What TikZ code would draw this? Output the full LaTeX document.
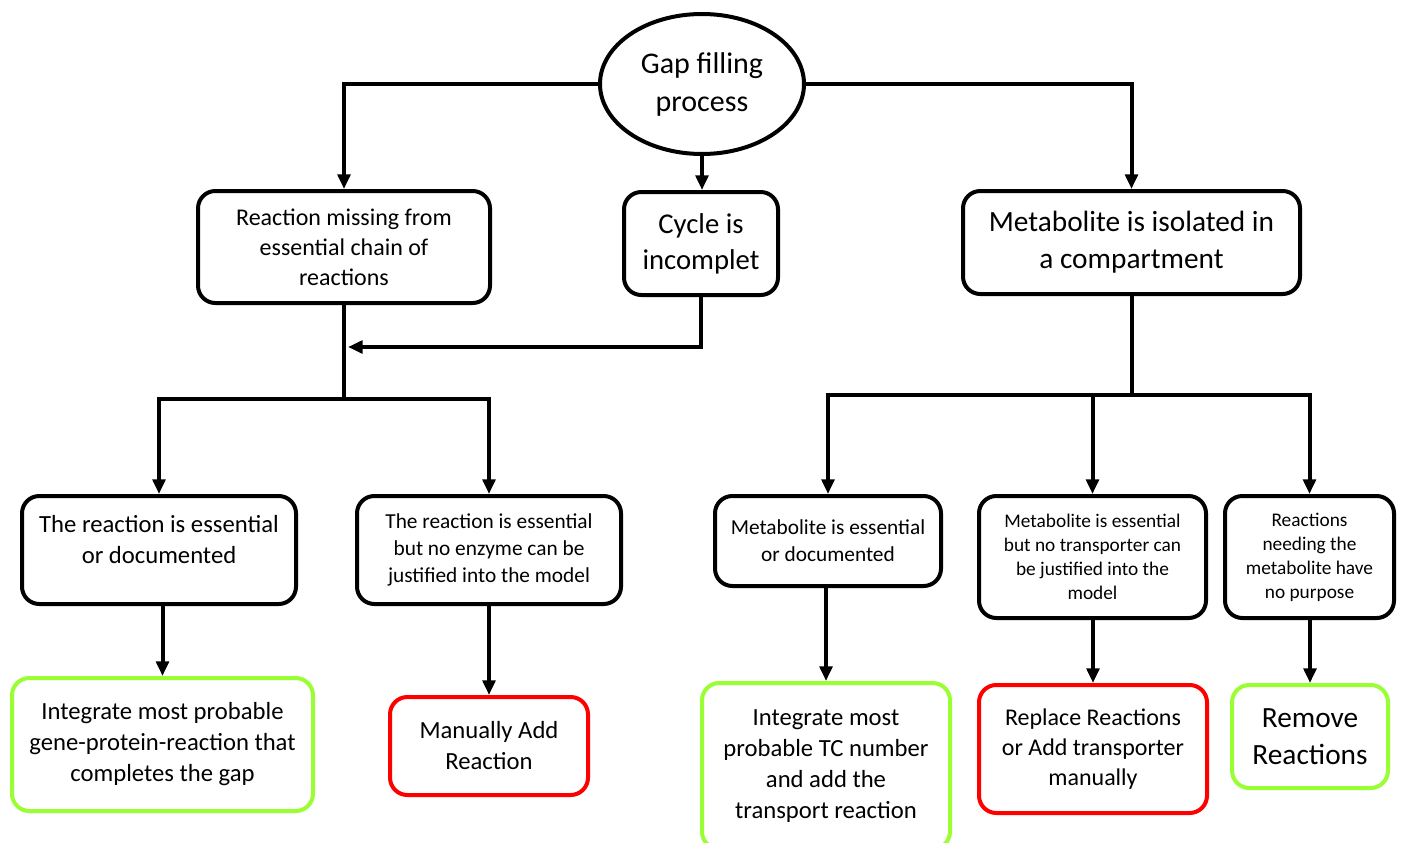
\documentclass[tikz,border=0pt]{standalone}
\usepackage{fontspec}
\setmainfont{Carlito}
\usetikzlibrary{arrows.meta,shapes.geometric}

\definecolor{okgreen}{RGB}{153,255,51}
\definecolor{nored}{RGB}{255,0,0}

\tikzset{
  conn/.style={line width=3pt},
  arr/.style={conn, -{Triangle[length=11pt,width=9.5pt]}},
  box/.style={draw, line width=3pt, rounded corners=13pt, align=center, inner sep=2pt},
  okbox/.style={box, draw=okgreen},
  nobox/.style={box, draw=nored},
  sz/.style 2 args={minimum width=#1*0.75pt, minimum height=#2*0.75pt},
  fs/.style 2 args={font=\fontsize{#1pt}{#2pt}\selectfont}
}

\begin{document}
\begin{tikzpicture}[x=0.75pt, y=-0.75pt]

  %% Page frame.
  \useasboundingbox (0,0) rectangle (1404,843);


  %% Top of the tree.
  \node[ellipse, draw, line width=3pt, inner sep=0pt, sz={204}{140}, align=center, fs={22.5}{28.5}]
  (gap) at (702,84) {Gap filling\\process};

  \node[box, sz={292}{112}, fs={18}{22.5}] (rmiss) at (344,247)
  {Reaction missing from\\essential chain of\\reactions};
  \node[box, sz={154}{103}, fs={21.5}{27}] (cycle) at (701,243.5)
  {Cycle is\\incomplet};
  \node[box, sz={337}{103}, fs={22}{27.75}] (iso) at (1131.5,242.5)
  {Metabolite is isolated in\\a compartment};


  %% Left branch.
  \node[box, sz={274}{108}, fs={18.5}{23.25}, text depth=16pt] (essr) at (159,550)
  {The reaction is essential\\or documented};
  \node[box, sz={264}{108}, fs={16}{20.25}] (noenz) at (489,550)
  {The reaction is essential\\but no enzyme can be\\justified into the model};
  \node[okbox, sz={301}{133}, fs={18.5}{23.25}] (gpr) at (162.5,744.5)
  {Integrate most probable\\gene-protein-reaction that\\completes the gap};
  \node[nobox, sz={198}{98}, fs={18.5}{23.25}] (manadd) at (489,746)
  {Manually Add\\Reaction};


  %% Right branch.
  \node[box, sz={226}{90}, fs={16}{20.25}] (metess) at (828,541)
  {Metabolite is essential\\or documented};
  \node[box, sz={227}{122}, fs={14.5}{18}] (notr) at (1092.5,557)
  {Metabolite is essential\\but no transporter can\\be justified into the\\model};
  \node[box, sz={169}{122}, fs={14.5}{18}] (nopur) at (1309.5,557)
  {Reactions\\needing the\\metabolite have\\no purpose};
  \node[okbox, sz={248}{166}, fs={18.5}{23.25}] (tcnum) at (826,766)
  {Integrate most\\probable TC number\\and add the\\transport reaction};
  \node[nobox, sz={228}{128}, fs={18}{22.5}] (repl) at (1093,749)
  {Replace Reactions\\or Add transporter\\manually};
  \node[okbox, sz={156}{103}, fs={22}{27.75}] (remove) at (1310,736.5)
  {Remove\\Reactions};


  %% Junction points.
  \coordinate (jl) at (344,399);
  \coordinate (jc) at (348,347);
  \coordinate (jr) at (1131.5,395);


  %% Connectors from the process.
  \draw[arr] (gap.west) -| (rmiss.north);
  \draw[arr] (gap.east) -| (iso.north);
  \draw[arr] (gap.south) -- (gap.south |- cycle.north);

  %% Connectors of the left branch.
  \draw[conn] (rmiss.south) -- (jl);
  \draw[arr] (cycle.south) |- (jc);
  \draw[arr] (jl) -| (essr.north);
  \draw[arr] (jl) -| (noenz.north);
  \draw[arr] (gpr.north |- essr.south) -- (gpr.north);
  \draw[arr] (manadd.north |- noenz.south) -- (manadd.north);

  %% Connectors of the right branch.
  \draw[conn] (iso.south) -- (jr);
  \draw[arr] (jr) -| (metess.north);
  \draw[arr] (jr) -| (notr.north);
  \draw[arr] (jr) -| (nopur.north);
  \draw[arr] (tcnum.north |- metess.south) -- (tcnum.north);
  \draw[arr] (repl.north |- notr.south) -- (repl.north);
  \draw[arr] (remove.north |- nopur.south) -- (remove.north);

\end{tikzpicture}
\end{document}
